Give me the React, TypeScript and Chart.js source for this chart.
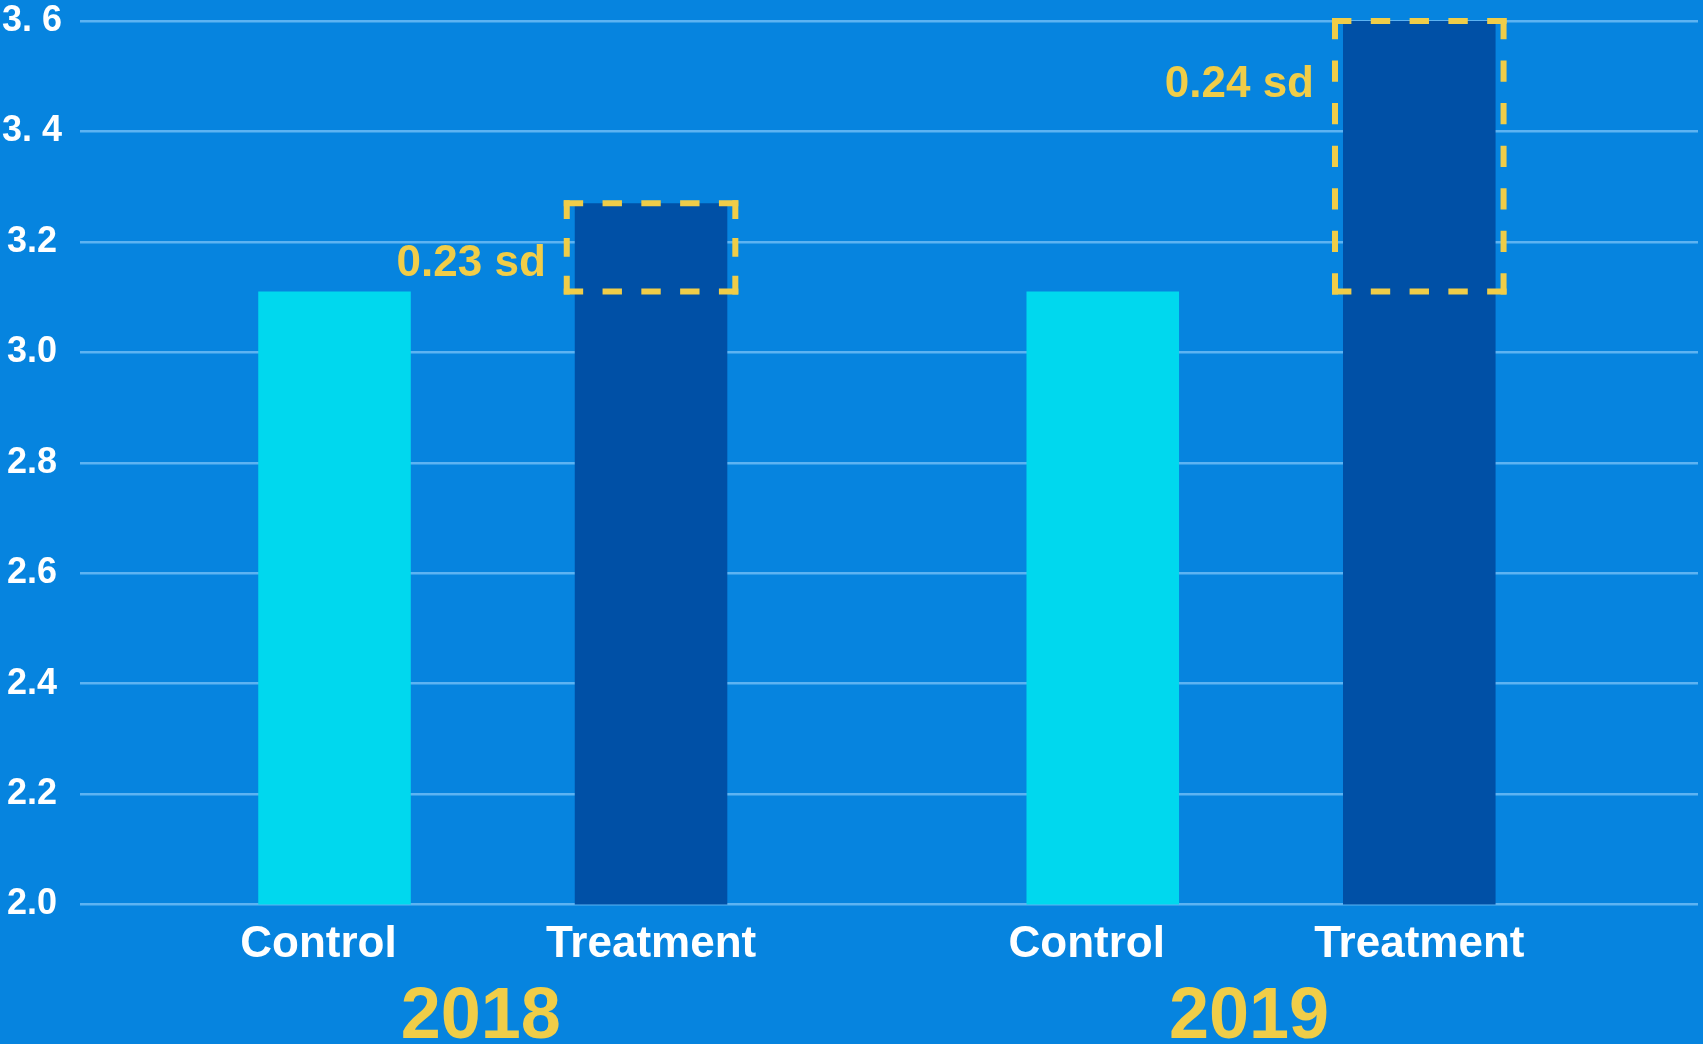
import React, { useEffect, useRef } from "react";
import { Chart, registerables } from "chart.js";

Chart.register(...registerables);

// ---- data ----
const years = ["2018", "2019"];
const groupLabels = ["Control", "Treatment"];
const controlValues = [3.11, 3.11];
const treatmentValues = [3.27, 3.6];
const yTickLabels = ["2.0", "2.2", "2.4", "2.6", "2.8", "3.0", "3.2", "3. 4", "3. 6"];
const effectLabels = ["0.23 sd", "0.24 sd"];
const effectLabelY = [3.16, 3.485];

// ---- style ----
const BG = "#0684DF";
const CONTROL_COLOR = "#00D8EE";
const TREAT_COLOR = "#0050A6";
const GRID_COLOR = "#5DB3F2";
const YELLOW = "#F0CD48";
const FONT = "'Liberation Sans', Arial, Helvetica, sans-serif";

const labelsPlugin = {
  id: "customLabels",
  afterDatasetsDraw(chart: any) {
    const ctx = chart.ctx;
    const yScale = chart.scales.y;
    const metaC = chart.getDatasetMeta(0);
    const metaT = chart.getDatasetMeta(1);
    ctx.save();

    // dashed effect boxes
    const pad = 8;
    const lw = 6;
    ctx.strokeStyle = YELLOW;
    ctx.lineWidth = lw;
    ctx.lineCap = "butt";
    const dashedLine = (x1: number, y1: number, x2: number, y2: number) => {
      const L = Math.hypot(x2 - x1, y2 - y1);
      const target = 21;
      const k = Math.max(1, Math.round((L + target) / (2 * target)));
      const seg = L / (2 * k - 1);
      ctx.setLineDash([seg, seg]);
      ctx.beginPath();
      ctx.moveTo(x1, y1);
      ctx.lineTo(x2, y2);
      ctx.stroke();
    };
    metaT.data.forEach((bar: any, i: number) => {
      const half = bar.width / 2;
      const left = bar.x - half - pad;
      const right = bar.x + half + pad;
      const top = yScale.getPixelForValue(treatmentValues[i]);
      const bottom = yScale.getPixelForValue(controlValues[i]);
      const e = lw / 2;
      dashedLine(left - e, top, right + e, top);
      dashedLine(left - e, bottom, right + e, bottom);
      dashedLine(left, top - e, left, bottom + e);
      dashedLine(right, top - e, right, bottom + e);

      // effect label
      ctx.setLineDash([]);
      ctx.fillStyle = YELLOW;
      ctx.font = `bold 44px ${FONT}`;
      ctx.textAlign = "right";
      ctx.textBaseline = "middle";
      ctx.fillText(effectLabels[i], left - e - 18, yScale.getPixelForValue(effectLabelY[i]));
    });
    ctx.setLineDash([]);

    // category labels under bars
    const labelY = 945;
    ctx.fillStyle = "#FFFFFF";
    ctx.font = `bold 44px ${FONT}`;
    ctx.textAlign = "center";
    ctx.textBaseline = "middle";
    const offsets = [-16, 0];
    [metaC, metaT].forEach((meta: any, d: number) => {
      meta.data.forEach((bar: any) => {
        ctx.fillText(groupLabels[d], bar.x + offsets[d], labelY);
      });
    });

    // year labels
    ctx.fillStyle = YELLOW;
    ctx.font = `bold 72px ${FONT}`;
    ctx.textBaseline = "alphabetic";
    metaC.data.forEach((bar: any, i: number) => {
      const cx = (bar.x + metaT.data[i].x) / 2 - 12;
      ctx.fillText(years[i], cx, 1038);
    });
    ctx.restore();
  },
};

export default function App() {
  const ref = useRef<HTMLCanvasElement>(null);
  useEffect(() => {
    if (!ref.current) return;
    const chart = new Chart(ref.current, {
      type: "bar",
      data: {
        datasets: [
          {
            label: groupLabels[0],
            data: controlValues.map((v, i) => ({ x: i, y: v })),
            backgroundColor: CONTROL_COLOR,
            borderWidth: 0,
          },
          {
            label: groupLabels[1],
            data: treatmentValues.map((v, i) => ({ x: i, y: v })),
            backgroundColor: TREAT_COLOR,
            borderWidth: 0,
          },
        ],
      },
      options: {
        responsive: false,
        animation: false,
        events: [],
        categoryPercentage: 0.824,
        barPercentage: 0.482,
        layout: { padding: { top: 21, bottom: 139.5, left: 0, right: 5 } },
        plugins: {
          legend: { display: false },
          tooltip: { enabled: false },
        },
        scales: {
          x: {
            type: "linear",
            display: false,
            offset: false,
            grid: { offset: false },
            min: -0.5373,
            max: 1.5688,
            afterBuildTicks: (s: any) => {
              s.ticks = [{ value: 0 }, { value: 1 }];
            },
          },
          y: {
            min: 2.0,
            max: 3.6,
            border: { display: false },
            grid: { color: GRID_COLOR, lineWidth: 2.5, drawTicks: false },
            afterFit: (s: any) => {
              s.width = 80;
              s.paddingTop = 0;
              s.paddingBottom = 0;
            },
            ticks: {
              stepSize: 0.2,
              padding: 18,
              crossAlign: "center",
              color: "#FFFFFF",
              font: { family: FONT, size: 36, weight: "bold" },
              callback: (_v: any, index: number) => yTickLabels[index],
            },
          },
        },
      },
      plugins: [labelsPlugin],
    } as any);
    return () => chart.destroy();
  }, []);

  return (
    <div style={{ position: "fixed", left: 0, top: 0, width: 1703, height: 1044, background: BG }}>
      <canvas ref={ref} width={1703} height={1044} style={{ display: "block", width: 1703, height: 1044 }} />
    </div>
  );
}
